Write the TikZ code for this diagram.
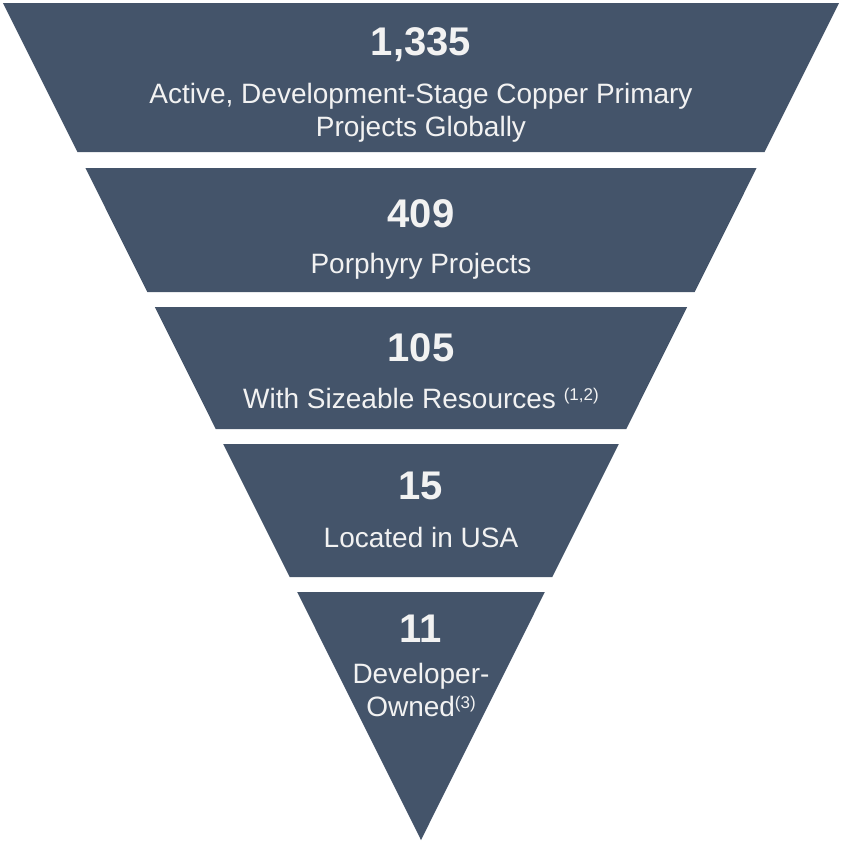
\documentclass[tikz,border=0pt]{standalone}
\usepackage{fontspec}
\setmainfont{Liberation Sans}
\definecolor{funnelblue}{HTML}{44546A}
\definecolor{funneltext}{HTML}{F2F2F2}
\tikzset{
  band/.style={fill=funnelblue},
  numtext/.style={anchor=base, text=funneltext, inner sep=0pt, font=\fontsize{40}{48}\selectfont\bfseries},
  desctext/.style={anchor=base, text=funneltext, inner sep=0pt, align=center, font=\fontsize{28}{33}\selectfont}
}
\newcommand{\supnote}[1]{{\fontsize{17}{17}\selectfont\raisebox{8pt}{#1}}}

\begin{document}
\begin{tikzpicture}[x=1pt, y=-1pt]
\useasboundingbox (0,0) rectangle (841,841);
% funnel bands, cut from one triangle (top 3..839, apex at 421,840)
\foreach \ya/\yb in {3/152, 168/292, 307/429, 444/577, 592/840} {
  \pgfmathsetmacro{\wa}{0.4994*(840-\ya)}
  \pgfmathsetmacro{\wb}{0.4994*(840-\yb)}
  \fill[band] (421-\wa,\ya) -- (421+\wa,\ya) -- (421+\wb,\yb) -- (421-\wb,\yb) -- cycle;
}
% texts (two-line texts sit on the baseline of their last line)
\node[numtext] (n1) at (421,55) {1,335};
\node[desctext] (d1) at (421,136) {Active, Development-Stage Copper Primary\\Projects Globally};
\node[numtext] (n2) at (421,227) {409};
\node[desctext] (d2) at (421,273) {Porphyry Projects};
\node[numtext] (n3) at (421,361) {105};
\node[desctext] (d3) at (421,408) {With Sizeable Resources \supnote{(1,2)}};
\node[numtext] (n4) at (421,499) {15};
\node[desctext] (d4) at (421,547) {Located in USA};
\node[numtext] (n5) at (421,642) {11};
\node[desctext] (d5) at (421,716) {Developer-\\Owned\supnote{(3)}};
\end{tikzpicture}
\end{document}
